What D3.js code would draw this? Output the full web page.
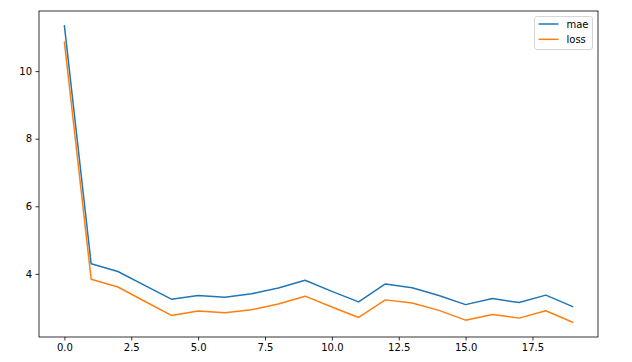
<!DOCTYPE html>
<html>
<head>
<meta charset="utf-8">
<script src="https://cdn.jsdelivr.net/npm/d3@7"></script>
<style>
  body { margin: 0; background: #fff; }
  svg text { font-family: "DejaVu Sans", sans-serif; font-size: 10px; fill: #000; }
  .axis path, .axis line { stroke: #000; stroke-width: 0.8; }
</style>
</head>
<body>
<div id="chart"></div>
<script>
// epochs 0..19, values
var epochs = [0,1,2,3,4,5,6,7,8,9,10,11,12,13,14,15,16,17,18,19]
var mae  = [11.34,4.30,4.07,3.66,3.25,3.36,3.31,3.41,3.58,3.81,3.48,3.17,3.70,3.59,3.36,3.09,3.27,3.15,3.37,3.03]
var loss = [10.86,3.84,3.61,3.19,2.77,2.90,2.85,2.94,3.11,3.34,3.02,2.71,3.23,3.14,2.92,2.63,2.80,2.69,2.91,2.57]
var seriesNames = ["mae","loss"]
var colors = ["#1f77b4","#ff7f0e"]
var xTicks = [0,2.5,5,7.5,10,12.5,15,17.5]
var yTicks = [4,6,8,10]

var W = 632, H = 362
var margin = {top: 11, right: 34, bottom: 25, left: 39}
var width = W - margin.left - margin.right
var height = H - margin.top - margin.bottom

var svg = d3.select("#chart").append("svg")
    .attr("width", W)
    .attr("height", H)

var g = svg.append("g")
    .attr("transform", "translate(" + margin.left + "," + margin.top + ")")

// matplotlib style 5% margins
var xr = d3.extent(epochs), xpad = (xr[1]-xr[0])*0.05
var x = d3.scaleLinear().domain([xr[0]-xpad, xr[1]+xpad]).range([0, width])
var all = mae.concat(loss)
var yr = d3.extent(all), ypad = (yr[1]-yr[0])*0.05
var y = d3.scaleLinear().domain([yr[0]-ypad, yr[1]+ypad]).range([height, 0])

var xAxis = g.append("g")
    .attr("class", "axis")
    .attr("transform", "translate(0," + height + ")")
    .call(d3.axisBottom(x).tickValues(xTicks).tickFormat(d3.format(".1f")).tickSize(3.5).tickPadding(3.5))
xAxis.select(".domain").remove()

var yAxis = g.append("g")
    .attr("class", "axis")
    .call(d3.axisLeft(y).tickValues(yTicks).tickFormat(d3.format("d")).tickSize(3.5).tickPadding(3.5))
yAxis.select(".domain").remove()

g.selectAll(".axis text").attr("font-size", 10)

var data = [mae, loss]
var line = d3.line()
    .x(function(d, i) { return x(epochs[i]) })
    .y(function(d) { return y(d) })

g.selectAll(".series")
  .data(data)
  .enter().append("path")
    .attr("class", "series")
    .attr("fill", "none")
    .attr("stroke", function(d, i) { return colors[i] })
    .attr("stroke-width", 1.5)
    .attr("stroke-linejoin", "round")
    .attr("stroke-linecap", "square")
    .attr("d", line)

// frame
g.append("rect")
    .attr("width", width)
    .attr("height", height)
    .attr("fill", "none")
    .attr("stroke", "#000")
    .attr("stroke-width", 0.8)

// legend
var legend = g.append("g")
    .attr("transform", "translate(" + (width - 63.5) + ",5.5)")

legend.append("rect")
    .attr("width", 58)
    .attr("height", 33)
    .attr("rx", 2.5)
    .attr("fill", "#fff")
    .attr("fill-opacity", 0.8)
    .attr("stroke", "#cccccc")
    .attr("stroke-width", 0.8)

seriesNames.forEach(function(name, i) {
  var row = legend.append("g").attr("transform", "translate(0," + (7.5 + i*15.3) + ")")
  row.append("line")
      .attr("x1", 4).attr("x2", 24)
      .attr("stroke", colors[i])
      .attr("stroke-width", 1.5)
  row.append("text")
      .attr("x", 32)
      .attr("dy", "0.35em")
      .text(name)
})
</script>
</body>
</html>
